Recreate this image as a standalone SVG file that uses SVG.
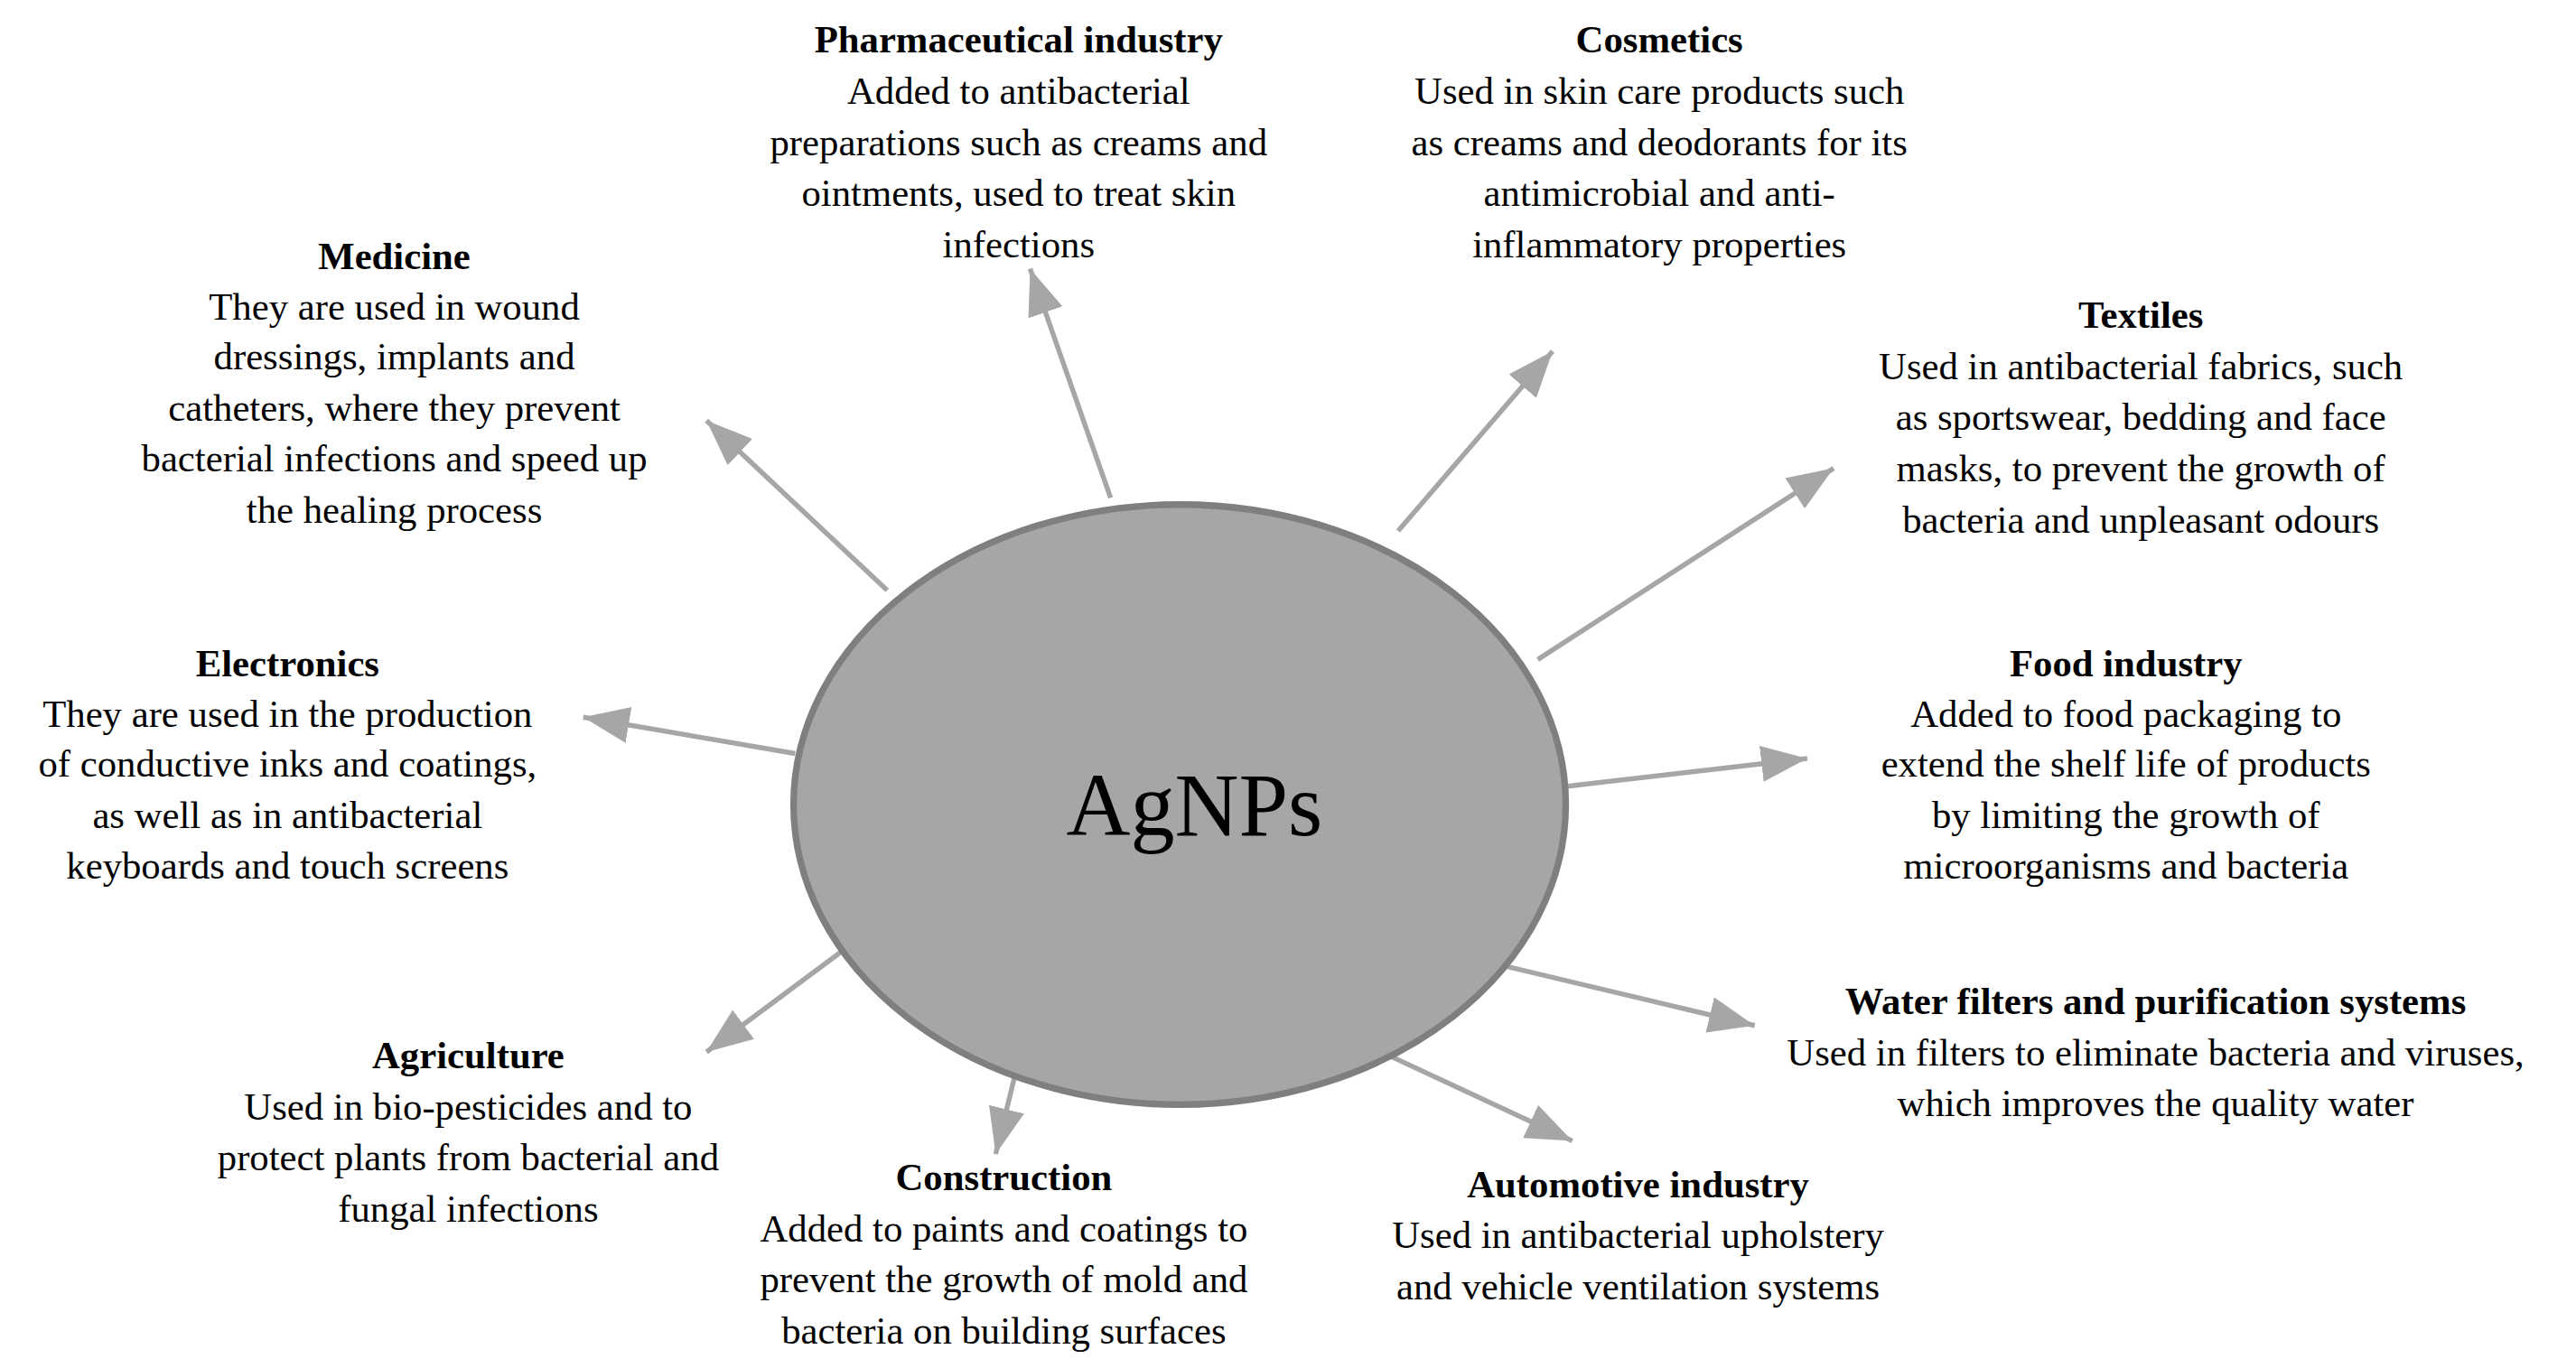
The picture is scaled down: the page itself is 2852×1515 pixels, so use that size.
<svg xmlns="http://www.w3.org/2000/svg" width="2852" height="1515" viewBox="0 0 2852 1515">
<style>
text{font-family:"Liberation Serif","DejaVu Serif",serif;font-size:23.5px;fill:#000;text-anchor:middle;dominant-baseline:central}
.b{font-weight:bold}
.c line{stroke:#a6a6a6;stroke-width:3;marker-end:url(#ah)}
</style>
<defs><marker id="ah" markerUnits="userSpaceOnUse" markerWidth="30" markerHeight="24" refX="28" refY="11" orient="auto"><path d="M0,0 L28,11 L0,22 z" fill="#a6a6a6"/></marker></defs>
<rect width="2852" height="1515" fill="#fff"/>
<g transform="scale(1.819,1.826)">
<g id="connectors" class="c">
<line x1="540" y1="358" x2="430" y2="255"/>
<line x1="676" y1="302" x2="627" y2="163"/>
<line x1="851" y1="322" x2="945" y2="213"/>
<line x1="936" y1="400" x2="1116" y2="284"/>
<line x1="953" y1="477" x2="1100" y2="460"/>
<line x1="908" y1="584" x2="1068" y2="622"/>
<line x1="830" y1="633" x2="957" y2="692"/>
<line x1="620" y1="643" x2="606" y2="700"/>
<line x1="515" y1="575" x2="430" y2="638"/>
<line x1="484" y1="457" x2="355" y2="435"/>
</g>
<g id="agnps"><ellipse cx="718" cy="488" rx="235" ry="182" fill="#a6a6a6" stroke="#7f7f7f" stroke-width="4"/><text x="727" y="488" style="font-size:54px">AgNPs</text></g>
<g id="pharma"><text class="b" x="620" y="24">Pharmaceutical industry</text><text x="620" y="55">Added to antibacterial</text><text x="620" y="86">preparations such as creams and</text><text x="620" y="117">ointments, used to treat skin</text><text x="620" y="148">infections</text></g>
<g id="cosmetics"><text class="b" x="1010" y="24">Cosmetics</text><text x="1010" y="55">Used in skin care products such</text><text x="1010" y="86">as creams and deodorants for its</text><text x="1010" y="117">antimicrobial and anti-</text><text x="1010" y="148">inflammatory properties</text></g>
<g id="medicine"><text class="b" x="240" y="155">Medicine</text><text x="240" y="186">They are used in wound</text><text x="240" y="216">dressings, implants and</text><text x="240" y="247">catheters, where they prevent</text><text x="240" y="278">bacterial infections and speed up</text><text x="240" y="309">the healing process</text></g>
<g id="textiles"><text class="b" x="1303" y="191">Textiles</text><text x="1303" y="222">Used in antibacterial fabrics, such</text><text x="1303" y="253">as sportswear, bedding and face</text><text x="1303" y="284">masks, to prevent the growth of</text><text x="1303" y="315">bacteria and unpleasant odours</text></g>
<g id="electronics"><text class="b" x="175" y="402">Electronics</text><text x="175" y="433">They are used in the production</text><text x="175" y="463">of conductive inks and coatings,</text><text x="175" y="494">as well as in antibacterial</text><text x="175" y="525">keyboards and touch screens</text></g>
<g id="food"><text class="b" x="1294" y="402">Food industry</text><text x="1294" y="433">Added to food packaging to</text><text x="1294" y="463">extend the shelf life of products</text><text x="1294" y="494">by limiting the growth of</text><text x="1294" y="525">microorganisms and bacteria</text></g>
<g id="water"><text class="b" x="1312" y="607">Water filters and purification systems</text><text x="1312" y="638">Used in filters to eliminate bacteria and viruses,</text><text x="1312" y="669">which improves the quality water</text></g>
<g id="agriculture"><text class="b" x="285" y="640">Agriculture</text><text x="285" y="671">Used in bio-pesticides and to</text><text x="285" y="702">protect plants from bacterial and</text><text x="285" y="733">fungal infections</text></g>
<g id="construction"><text class="b" x="611" y="714">Construction</text><text x="611" y="745">Added to paints and coatings to</text><text x="611" y="776">prevent the growth of mold and</text><text x="611" y="807">bacteria on building surfaces</text></g>
<g id="automotive"><text class="b" x="997" y="718">Automotive industry</text><text x="997" y="749">Used in antibacterial upholstery</text><text x="997" y="780">and vehicle ventilation systems</text></g>
</g>
</svg>
